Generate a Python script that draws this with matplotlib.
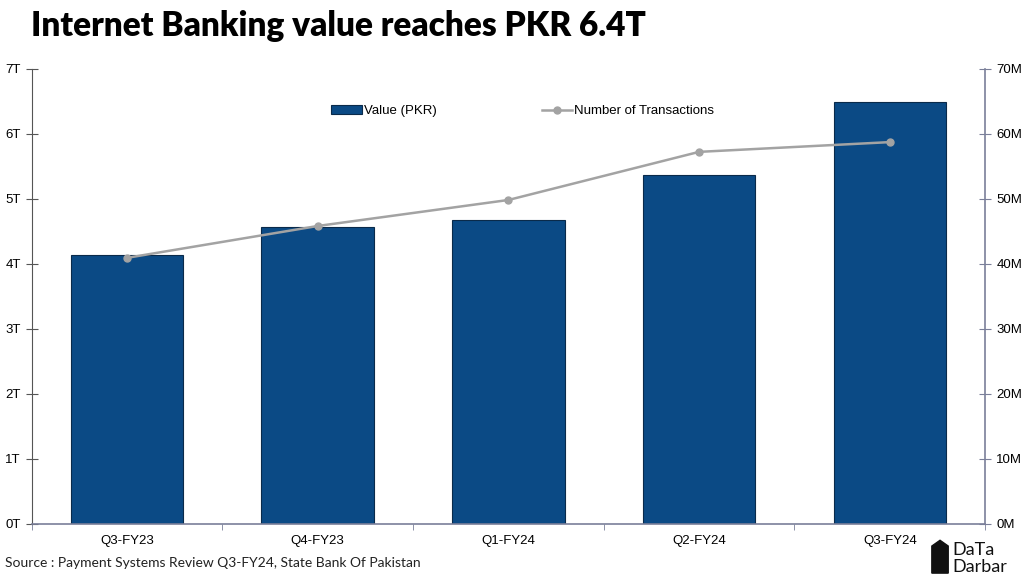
import numpy as np
import matplotlib
matplotlib.use('Agg')
import matplotlib.pyplot as plt
from matplotlib.patches import Polygon
from matplotlib.ticker import FuncFormatter

quarters = ['Q3-FY23', 'Q4-FY23', 'Q1-FY24', 'Q2-FY24', 'Q3-FY24']
value_t = [4.14, 4.57, 4.67, 5.37, 6.48]        # PKR trillions
txn_m = [40.9, 45.8, 49.8, 57.2, 58.7]          # millions of transactions

bar_col = '#0b4a85'
line_col = '#a3a3a3'
spine_col = '#7a7f99'

plt.rcParams['font.family'] = ['Liberation Sans', 'DejaVu Sans']

fig = plt.figure(figsize=(10.24, 5.76), dpi=100)
ax = fig.add_axes([0.031, 0.0908, 0.931, 0.790])
ax2 = ax.twinx()

x = np.arange(len(quarters))
bars = ax.bar(x, value_t, width=0.59, color=bar_col, edgecolor='#0a2a4a',
              linewidth=0.8, label='Value (PKR)', zorder=2)
ln, = ax2.plot(x, txn_m, color=line_col, lw=1.8, marker='o', ms=5,
               label='Number of Transactions', zorder=3)

ax.set_xlim(-0.5, len(quarters) - 0.5)
ax.set_ylim(0, 7)
ax2.set_ylim(0, 70)
ax.set_yticks(np.arange(0, 8))
ax2.set_yticks(np.arange(0, 71, 10))
ax.yaxis.set_major_formatter(FuncFormatter(lambda v, p: f'{int(v)}T'))
ax2.yaxis.set_major_formatter(FuncFormatter(lambda v, p: f'{int(v)}M'))

ax.set_xticks(x)
ax.set_xticklabels(quarters)
ax.set_xticks(np.arange(-0.5, len(quarters)), minor=True)
ax.tick_params(axis='x', which='major', length=0, pad=8, labelsize=9.5)
ax.tick_params(axis='x', which='minor', length=4, direction='out', color=spine_col)
ax.tick_params(axis='y', direction='inout', length=8, labelsize=9.5, pad=4,
               color='#555555')
ax2.tick_params(axis='y', direction='inout', length=8, labelsize=9.5, pad=4,
                color=spine_col)

for a in (ax, ax2):
    a.spines['top'].set_visible(False)
ax.spines['right'].set_visible(False)
ax2.spines['left'].set_visible(False)
ax2.spines['bottom'].set_visible(False)
ax.spines['left'].set_color('#555555')
ax.spines['bottom'].set_color(spine_col)
ax2.spines['right'].set_color(spine_col)
ax.spines['bottom'].set_linewidth(1.2)
ax2.spines['right'].set_linewidth(1.2)

ax.legend([bars, ln], ['Value (PKR)', 'Number of Transactions'], ncol=2,
          loc='center', bbox_to_anchor=(0.515, 0.907), frameon=False,
          fontsize=9.5, handlelength=2.3, handletextpad=0.15,
          columnspacing=8.0, handleheight=0.6)

fig.text(0.03, 0.955, 'Internet Banking value reaches PKR 6.4T',
         fontsize=24, fontweight='heavy', family=['Lato', 'DejaVu Sans'],
         va='center', ha='left')
fig.text(0.005, 0.022, 'Source : Payment Systems Review Q3-FY24, State Bank Of Pakistan',
         fontsize=10, family=['Lato', 'DejaVu Sans'], color='#222222',
         va='center', ha='left')

# small Data Darbar logo
fig.add_artist(Polygon([[0.910, 0.005], [0.910, 0.052], [0.918, 0.062],
                        [0.926, 0.052], [0.926, 0.005]], closed=True,
                       transform=fig.transFigure, color='#111111'))
fig.text(0.930, 0.045, 'DaTa', fontsize=13, color='#111111', va='center',
         family=['Lato', 'DejaVu Sans'])
fig.text(0.930, 0.015, 'Darbar', fontsize=13, color='#111111', va='center',
         family=['Lato', 'DejaVu Sans'])

fig.savefig('out.png', dpi=100)
